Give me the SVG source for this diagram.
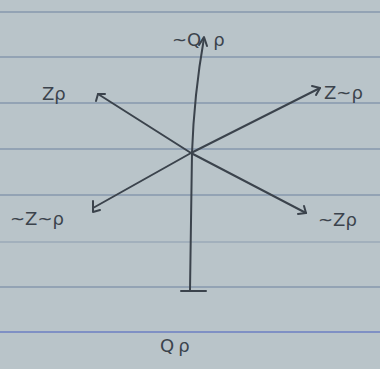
<svg xmlns="http://www.w3.org/2000/svg" width="380" height="369" viewBox="0 0 380 369">
<style>
.rule{stroke:#93a3b4;stroke-width:2}
.ink{stroke:#3b434c;stroke-width:2;fill:none;stroke-linecap:round;stroke-linejoin:round}
.lbl{font-family:"DejaVu Sans",sans-serif;font-size:18px;fill:#3b434c}
</style>
<rect width="380" height="369" fill="#b9c4c9"/>
<g id="paper">
<line class="rule" x1="0" y1="12" x2="380" y2="12"/>
<line class="rule" x1="0" y1="57" x2="380" y2="57"/>
<line class="rule" x1="0" y1="103" x2="380" y2="103"/>
<line class="rule" x1="0" y1="149" x2="380" y2="149"/>
<line class="rule" x1="0" y1="195" x2="380" y2="195"/>
<line class="rule" x1="0" y1="242" x2="380" y2="242" stroke-opacity="0.6"/>
<line class="rule" x1="0" y1="287" x2="380" y2="287"/>
<line x1="0" y1="332" x2="380" y2="332" stroke="#7f90c4" stroke-width="2"/>
</g>
<g id="connectors">
<path class="ink" d="M204,38 Q194,95 192,153 L190,290"/>
<path class="ink" d="M181,291 L206,291" stroke-width="3"/>
<path class="ink" d="M199,45 L204,37 L207,46"/>
<path class="ink" d="M98,94 L191,153 L306,213"/>
<path class="ink" d="M96,101 L98,94 L105,94"/>
<path class="ink" d="M298,214 L306,213 L304,206"/>
<path class="ink" d="M320,88 L191,153 L93,208"/>
<path class="ink" d="M312,86 L320,88 L316,95"/>
<path class="ink" d="M93,201 L93,212 L100,210"/>
</g>
<g id="n-top"><text class="lbl" x="172" y="46">~Q<tspan dx="12">ρ</tspan></text></g>
<g id="n-tl"><text class="lbl" x="42" y="100">Zρ</text></g>
<g id="n-tr"><text class="lbl" x="324" y="99">Z~ρ</text></g>
<g id="n-bl"><text class="lbl" x="10" y="225">~Z~ρ</text></g>
<g id="n-br"><text class="lbl" x="318" y="226">~Zρ</text></g>
<g id="n-bottom"><text class="lbl" x="160" y="352" font-size="24">Q<tspan font-size="18" dx="4">ρ</tspan></text></g>
</svg>
